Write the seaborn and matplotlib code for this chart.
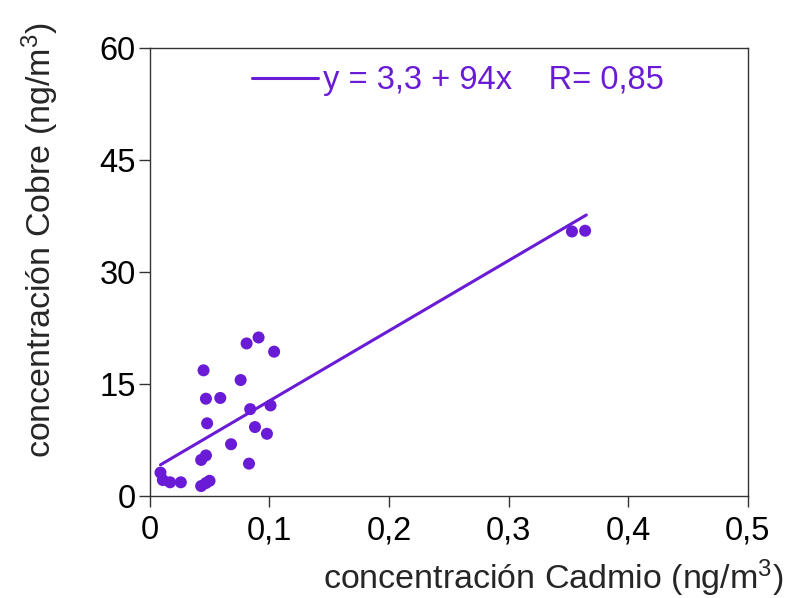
import matplotlib
matplotlib.use('Agg')
import matplotlib.pyplot as plt
import seaborn as sns
import pandas as pd

# Data
cadmio = [0.009, 0.011, 0.017, 0.026, 0.043, 0.047, 0.050, 0.043, 0.047,
          0.048, 0.047, 0.045, 0.059, 0.068, 0.076, 0.081, 0.091, 0.104,
          0.084, 0.101, 0.088, 0.098, 0.083, 0.353, 0.364]
cobre = [3.1, 2.1, 1.8, 1.8, 1.3, 1.7, 2.0, 4.8, 5.4,
         9.7, 13.0, 16.8, 13.1, 6.9, 15.5, 20.4, 21.2, 19.3,
         11.6, 12.1, 9.2, 8.3, 4.3, 35.4, 35.5]

# Fitted line as printed in the legend
intercept = 3.3
slope = 94
fit_x = [0.009, 0.365]
fit_label = 'y = 3,3 + 94x    R= 0,85'

x_ticks = [0, 0.1, 0.2, 0.3, 0.4, 0.5]
x_labels = ['0', '0,1', '0,2', '0,3', '0,4', '0,5']
y_ticks = [0, 15, 30, 45, 60]

color = '#6a1bd6'

sns.set_style('ticks')
plt.rcParams['font.family'] = ['Liberation Sans', 'DejaVu Sans']
plt.rcParams['mathtext.fontset'] = 'custom'
plt.rcParams['mathtext.rm'] = 'Liberation Sans'
plt.rcParams['mathtext.it'] = 'Liberation Sans'
plt.rcParams['axes.edgecolor'] = '#333333'
plt.rcParams['axes.linewidth'] = 1.0

df = pd.DataFrame({'Cadmio': cadmio, 'Cobre': cobre})
fit = pd.DataFrame({'x': fit_x, 'y': [intercept + slope * v for v in fit_x]})

fig = plt.figure(figsize=(7.88, 5.98), dpi=100)
ax = fig.add_axes([0.190, 0.171, 0.759, 0.749])

sns.lineplot(data=fit, x='x', y='y', color=color, linewidth=2.2, ax=ax, label=fit_label)
sns.scatterplot(data=df, x='Cadmio', y='Cobre', color=color, s=75, edgecolor='none', ax=ax)

ax.set_xlim(0, 0.5)
ax.set_ylim(0, 60)
ax.set_xticks(x_ticks)
ax.set_xticklabels(x_labels)
ax.set_yticks(y_ticks)
ax.tick_params(axis='both', labelsize=23.5, direction='out', length=8, width=1, colors='#333333', labelcolor='black')
ax.tick_params(axis='x', pad=6)
ax.tick_params(axis='y', pad=2)
for s in ['top', 'right']:
    ax.spines[s].set_visible(True)

ax.set_xlabel('concentración Cadmio (ng/m$^3$)', fontsize=24.5, ha='right')
ax.xaxis.set_label_coords(1.06, -0.138)
ax.set_ylabel('concentración Cobre (ng/m$^3$)', fontsize=24.5)
ax.yaxis.set_label_coords(-0.148, 0.57)

leg = ax.legend(loc='upper left', bbox_to_anchor=(0.15, 0.99), frameon=False, fontsize=23.5,
                handlelength=2.0, handletextpad=0.15, borderaxespad=0)
for t in leg.get_texts():
    t.set_color(color)

fig.savefig('out.png', dpi=100)
